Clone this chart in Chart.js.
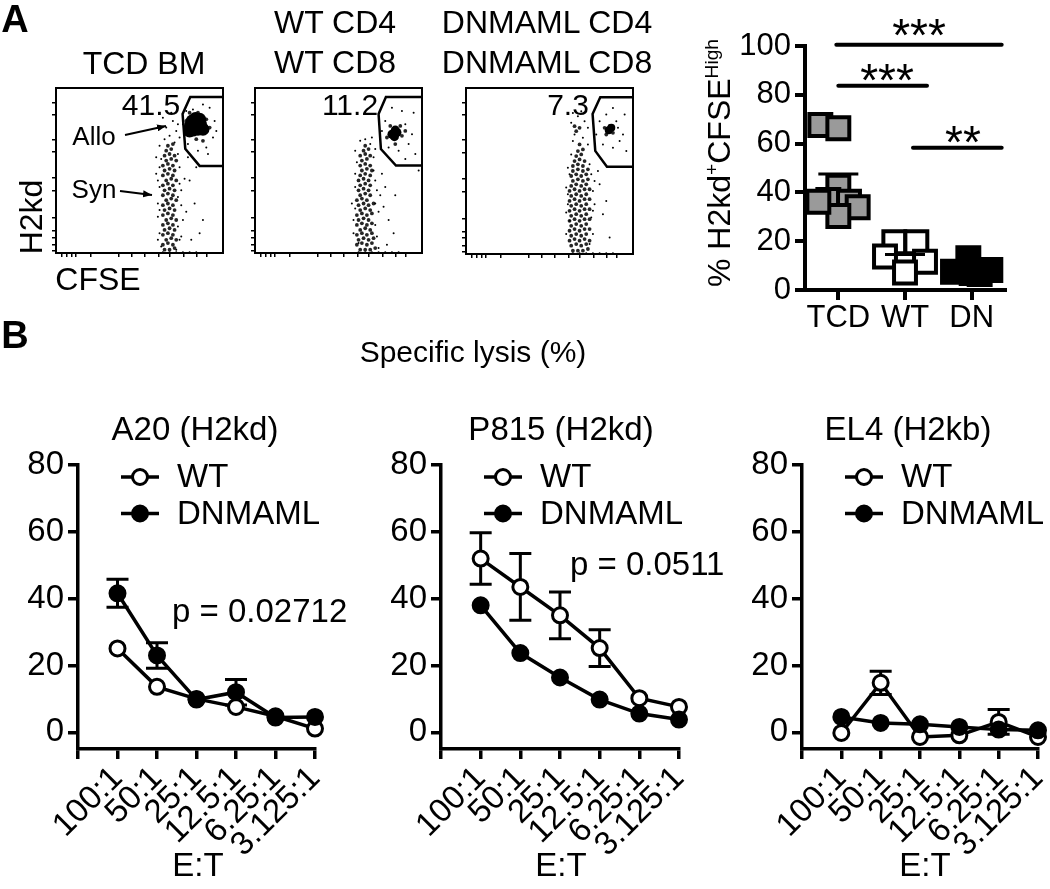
<!DOCTYPE html>
<html>
<head>
<meta charset="utf-8">
<script src="https://cdn.jsdelivr.net/npm/chart.js@4.4.0/dist/chart.umd.min.js"></script>
<style>
body{margin:0;background:#fff;}
#fig{position:relative;width:1050px;height:889px;overflow:hidden;font-family:"Liberation Sans",Arial,Helvetica,sans-serif;color:#000;background:#fff;}
canvas{position:absolute;}
.t{position:absolute;white-space:nowrap;line-height:1;transform:translate(-50%,-50%);}
.l{position:absolute;white-space:nowrap;line-height:1;transform:translateY(-50%);}
sup{font-size:0.6em;vertical-align:0.65em;line-height:0;}
</style>
</head>
<body>
<div id="fig">
  <canvas id="fc1" width="190" height="180" style="left:40px;top:80px;width:190px;height:180px"></canvas>
  <canvas id="fc2" width="190" height="180" style="left:240px;top:80px;width:190px;height:180px"></canvas>
  <canvas id="fc3" width="190" height="180" style="left:450px;top:80px;width:190px;height:180px"></canvas>
  <canvas id="rc" width="350" height="340" style="left:700px;top:0px;width:350px;height:340px"></canvas>
  <canvas id="b1" width="350" height="440" style="left:0px;top:440px;width:350px;height:440px"></canvas>
  <canvas id="b2" width="350" height="440" style="left:360px;top:440px;width:350px;height:440px"></canvas>
  <canvas id="b3" width="330" height="440" style="left:720px;top:440px;width:330px;height:440px"></canvas>

  <svg style="position:absolute;left:0;top:0" width="1050" height="889">
    <defs>
      <marker id="ah" markerWidth="4.5" markerHeight="3.6" refX="4.5" refY="1.8" orient="auto" markerUnits="strokeWidth">
        <path d="M0,0 L4.5,1.8 L0,3.6 z" fill="#000"/>
      </marker>
    </defs>
    <line x1="125" y1="135" x2="166" y2="126" stroke="#000" stroke-width="2" marker-end="url(#ah)"/>
    <line x1="120" y1="191" x2="152" y2="195" stroke="#000" stroke-width="2" marker-end="url(#ah)"/>
  </svg>

  <div class="t" style="left:15px;top:19px;font-size:38px;font-weight:bold">A</div>
  <div class="t" style="left:15px;top:335px;font-size:38px;font-weight:bold">B</div>

  <div class="t" style="left:144px;top:63px;font-size:32px">TCD BM</div>
  <div class="t" style="left:335px;top:22px;font-size:32px">WT CD4</div>
  <div class="t" style="left:335px;top:62px;font-size:32px">WT CD8</div>
  <div class="t" style="left:547px;top:22px;font-size:32px">DNMAML CD4</div>
  <div class="t" style="left:547px;top:62px;font-size:32px">DNMAML CD8</div>

  <div class="t" style="left:151px;top:105px;font-size:30px">41.5</div>
  <div class="t" style="left:350px;top:105px;font-size:30px">11.2</div>
  <div class="t" style="left:568px;top:105px;font-size:30px">7.3</div>
  <div class="t" style="left:94px;top:136px;font-size:26px">Allo</div>
  <div class="t" style="left:94px;top:189px;font-size:26px">Syn</div>
  <div class="t" style="left:31px;top:217px;font-size:32px;transform:translate(-50%,-50%) rotate(-90deg)">H2kd</div>
  <div class="t" style="left:98px;top:279px;font-size:32px">CFSE</div>

  <div class="t" style="left:719px;top:163px;font-size:32px;transform:translate(-50%,-50%) rotate(-90deg)">% H2kd<sup>+</sup>CFSE<sup>High</sup></div>
  <div class="l" style="left:919px;top:35px;font-size:46px;transform:translate(-50%,-50%)">***</div>
  <div class="l" style="left:887px;top:80px;font-size:46px;transform:translate(-50%,-50%)">***</div>
  <div class="l" style="left:963px;top:142px;font-size:46px;transform:translate(-50%,-50%)">**</div>

  <div class="t" style="left:473px;top:352px;font-size:30px">Specific lysis (%)</div>
  <div class="t" style="left:195px;top:428px;font-size:33px">A20 (H2kd)</div>
  <div class="t" style="left:561px;top:428px;font-size:33px">P815 (H2kd)</div>
  <div class="t" style="left:908px;top:428px;font-size:33px">EL4 (H2kb)</div>
  <div class="l" style="left:172px;top:610px;font-size:33px">p = 0.02712</div>
  <div class="l" style="left:570px;top:563px;font-size:33px">p = 0.0511</div>
  <div class="t" style="left:198px;top:864px;font-size:33px">E:T</div>
  <div class="t" style="left:561px;top:864px;font-size:33px">E:T</div>
  <div class="t" style="left:925px;top:864px;font-size:33px">E:T</div>
</div>

<script>
const FONT = '"Liberation Sans", Arial, Helvetica, sans-serif';
Chart.defaults.font.family = FONT;
Chart.defaults.color = '#000';

// ---- B: specific lysis (0 = bar hidden by marker) ----
const etLabels = ['100:1', '50:1', '25:1', '12.5:1', '6.25:1', '3.125:1'];
const a20WT = [25.1, 13.6, 10, 7.6, 4.8, 1.1];
const a20WTerr = [0, 0, 0, 0, 0, 0];
const a20DN = [41.6, 23, 9.8, 12, 4.4, 4.6];
const a20DNerr = [4.2, 3.8, 0, 3.8, 0, 0];
const p815WT = [52, 43.5, 35, 25.2, 10.2, 7.6];
const p815WTerr = [7.7, 10, 7, 5.5, 0, 0];
const p815DN = [38, 23.7, 16.4, 9.8, 5.6, 3.8];
const p815DNerr = [0, 0, 0, 0, 0, 0];
const el4WT = [-0.2, 14.8, -1.4, -0.9, 3.1, -1.4];
const el4WTerr = [0, 3.5, 0, 0, 3.7, 0];
const el4DN = [4.6, 2.8, 2.4, 1.6, 0.8, 0.6];
const el4DNerr = [0, 0, 0, 0, 0, 0];

// ---- A right: % H2kd+CFSEhigh per mouse ----
const groups = ['TCD', 'WT', 'DN'];
const tcdVals = [67.6, 66.3, 42.3, 36.9, 36.2, 33.9, 30.3, 36.2];
const tcdJit = [-0.27, 0, 0, -0.15, 0.16, 0.29, 0, -0.3];
const wtVals = [19.6, 19.6, 13.7, 11.6, 7.2];
const wtJit = [-0.16, 0.17, -0.3, 0.3, 0];
const dnVals = [13, 7.5, 8.2, 7, 6.5];
const dnJit = [-0.05, -0.28, 0.28, 0, 0.12];
const groupMeans = [47.5, 14.5, 9];
const sigBars = [[0.97, 3.45, 100.5], [1, 2.33, 83.7], [2.12, 3.45, 58.3]];

// ---- A left: flow plots (CFSE %, H2kd % of the frame) ----
const facsXTicks = [3.4, 6.4, 9.4, 12, 20.8, 37.4, 45.4, 53.4, 61.4, 68.4, 76.4, 84.4, 90];
const facsYTicks = [1.4, 4.9, 9.5, 13.2, 21.1, 37.8, 45.5, 61.1, 68.8, 84, 91.1];

const bmGate = [[100,94.5],[80.4,94.5],[75.8,84.2],[77.4,63.2],[86,52.8],[100,52.8]];
const bmBlob = [[80.5,77],[83.5,79],[86.5,78],[82,74.5],[85,75],[84,77],[81.5,80],[86,81],[83.5,81.5],[88,75],[80,74]];
const bmCore = [
  [65,2],[68,2],[71,3],[64,5],[67,6],[70,5],[66,8],[69,9],[72,8],[64,11],[67,12],[70,11],
  [65,14],[68,15],[71,14],[64,17],[67,18],[70,17],[66,20],[69,21],[72,20],[64,23],[67,24],[70,23],
  [65,26],[68,27],[71,26],[64,29],[67,30],[70,29],[66,32],[69,33],[72,32],[64,35],[67,36],[70,35],
  [65,38],[68,39],[71,38],[64,41],[67,42],[70,41],[66,44],[69,45],[72,44],[64,47],[67,48],[70,47],
  [65,50],[68,51],[71,50],[64,53],[67,54],[70,53],[66,56],[69,57],[72,56],[65,59],[68,60],[71,59],
  [66,62],[69,63],[67,65],[70,66],
  [79,72],[89,73],[84,69],[78,80],[90,81],[85,85],[80,85],[88,68],[92,76]];
const bmDots = [[60,48],[61,30],[62,12],[63,57],[62,40],[74,52],[75,38],[76,20],[74,8],[73,60],[61,22],[75,29],[63,4],[72,2],[60,58],[77,45],[62,65],[71,67],[65,69],[68,71],
  [61,44],[62,26],[73,16],[74,42],[75,10],[61,8],[73,34],[62,52],
  [66,76],[70,80],[72,74],[74,70],[64,82],[69,85],[73,78],
  [80,44],[83,30],[78,25],[86,12],[81,8],[79,58],[84,52],[88,20],
  [64,0.5],[68,0.5],[72,0.5],[76,0.5],[80,0.5],[84,0.5],
  [78,86],[92,88],[95,80],[94,70],[90,64],[85,62],[79,66],[76,78],[96,74],[88,90],[82,87],[91,60]];

const wtGate = [[100,94.5],[78.4,94.5],[74,84.2],[75.4,63],[84.4,53],[100,53]];
const wtBlob = [[82,72],[85,73],[83.5,70.5],[84,74.5]];
const wtCore = [
  [63,2],[66,2],[69,2],[72,3],[61,5],[64,6],[67,5],[70,6],[62,8],[65,9],[68,8],[71,9],
  [61,11],[64,12],[67,11],[70,12],[63,14],[66,15],[69,14],[61,17],[64,18],[67,17],[70,18],
  [62,20],[65,21],[68,20],[61,23],[64,24],[67,23],[70,24],[63,26],[66,27],[69,26],
  [62,29],[65,30],[68,29],[71,30],[61,32],[64,33],[67,32],[63,35],[66,36],[69,35],
  [62,38],[65,39],[68,38],[63,41],[66,42],[69,41],[62,44],[65,45],[68,44],[63,47],[66,48],[69,47],
  [64,50],[67,51],[70,50],[63,53],[66,54],[69,53],[64,56],[67,57],[63,59],[66,60],[69,59],
  [65,62],[68,63],[66,65],
  [79,70],[88,71],[84,66],[81,77],[87,77],[90,74]];
const wtDots = [[59,20],[60,40],[61,55],[62,6],[73,10],[74,25],[72,44],[75,35],[71,58],[60,62],[63,68],[69,66],[58,30],[74,3],[70,70],[66,69],
  [59,12],[60,27],[72,17],[73,38],[71,50],[60,48],[72,30],
  [72,63],[76,48],[78,40],[77,28],[80,20],[83,12],[79,5],[84,35],
  [62,0.5],[66,0.5],[70,0.5],[74,0.5],[78,0.5],[82,0.5],[86,0.5],
  [78,80],[90,78],[94,72],[92,66],[86,62],[80,64],[95,85],[88,86],[82,88],[96,60],[76,74],[90,57],[98,50]];

const dnGate = [[100,94.5],[80.4,94.5],[75.8,84.4],[77.4,62.1],[84.4,52.6],[100,52.6]];
const dnBlob = [[85.5,74.5],[87,76]];
const dnCore = [
  [64,2],[67,2],[70,2],[73,3],[63,5],[66,6],[69,5],[72,6],[62,8],[65,9],[68,8],[71,9],[74,8],
  [63,11],[66,12],[69,11],[72,12],[62,14],[65,15],[68,14],[71,15],[74,15],[63,17],[66,18],[69,17],[72,18],
  [62,20],[65,21],[68,20],[71,21],[74,21],[63,23],[66,24],[69,23],[72,24],[62,26],[65,27],[68,26],[71,27],[74,27],
  [63,29],[66,30],[69,29],[72,30],[62,32],[65,33],[68,32],[71,33],[74,33],[63,35],[66,36],[69,35],[72,36],
  [62,38],[65,39],[68,38],[71,39],[74,39],[63,41],[66,42],[69,41],[72,42],[64,44],[67,45],[70,44],[73,45],
  [63,47],[66,48],[69,47],[72,48],[64,50],[67,51],[70,50],[73,51],[64,53],[67,54],[70,53],
  [65,56],[68,57],[71,56],[66,59],[69,60],[67,62],[70,63],[68,66],
  [66,74],[68,76],[65,77],[84,72],[86,77],[83,76],[88,73]];
const dnDots = [[60,12],[61,30],[62,48],[63,60],[74,6],[75,22],[76,38],[74,54],[73,66],[60,40],[62,20],[77,30],[64,68],[70,70],[63,79],[67,83],[71,80],[65,72],[73,76],[69,86],[64,85],
  [60,25],[61,36],[76,12],[77,44],[75,48],[61,52],[76,26],
  [80,42],[82,24],[86,10],[79,50],[84,32],
  [64,0.5],[68,0.5],[72,0.5],[76,0.5],[80,0.5],[84,0.5],[88,0.5],
  [80,80],[90,80],[94,72],[92,68],[88,64],[82,66],[95,84],[88,88],[84,84],[96,62],[78,72],[91,76]];

// fixed axis sizes so the plot areas land where the figure has them
function fixW(w) { return s => { s.width = w; s.paddingTop = 0; s.paddingBottom = 0; s.paddingLeft = 0; s.paddingRight = 0; }; }
function fixH(h) { return s => { s.height = h; s.paddingTop = 0; s.paddingBottom = 0; s.paddingLeft = 0; s.paddingRight = 0; }; }
function setTicks(vals) { return s => { s.ticks = vals.map(v => ({ value: v })); }; }

const framePlugin = {
  id: 'frame',
  afterDatasetsDraw(chart) {
    const a = chart.chartArea, ctx = chart.ctx;
    ctx.save();
    ctx.strokeStyle = '#000';
    ctx.lineWidth = 2;
    ctx.strokeRect(a.left, a.top, a.right - a.left, a.bottom - a.top);
    ctx.restore();
  }
};

function facsChart(id, core, blob, dots, gate, yw, pr, xh, blobR) {
  const facsAxis = (vals, fit) => ({
    type: 'linear', min: 0, max: 100,
    afterBuildTicks: setTicks(vals), afterFit: fit,
    ticks: { display: false },
    grid: { drawOnChartArea: false, tickLength: 4, lineWidth: 1.5, color: '#000' },
    border: { display: false }
  });
  return new Chart(document.getElementById(id), {
    type: 'scatter',
    data: {
      datasets: [
        { data: gate, showLine: true, borderColor: '#000', borderWidth: 2.5, pointRadius: 0, fill: false },
        { data: core, pointRadius: 1.9, backgroundColor: 'rgba(0,0,0,0.85)', borderWidth: 0 },
        { data: blob, pointRadius: blobR, backgroundColor: '#000', borderWidth: 0 },
        { data: dots, pointRadius: 1, backgroundColor: '#000', borderWidth: 0 }
      ]
    },
    options: {
      responsive: false, animation: false, events: [],
      layout: { padding: { top: 8, right: pr, left: 0, bottom: 0 } },
      plugins: { legend: { display: false }, tooltip: { enabled: false } },
      scales: { x: facsAxis(facsXTicks, fixH(xh)), y: facsAxis(facsYTicks, fixW(yw)) }
    },
    plugins: [framePlugin]
  });
}

facsChart('fc1', bmCore, bmBlob, bmDots, bmGate, 16, 7, 7, 6.5);
facsChart('fc2', wtCore, wtBlob, wtDots, wtGate, 15, 8, 7, 4.5);
facsChart('fc3', dnCore, dnBlob, dnDots, dnGate, 16, 7, 6, 4);

// mean lines + significance bars
const groupMarks = {
  id: 'groupMarks',
  afterDatasetsDraw(chart) {
    const ctx = chart.ctx, xs = chart.scales.x, ys = chart.scales.y;
    ctx.save();
    ctx.strokeStyle = '#000';
    ctx.lineWidth = 3;
    groupMeans.forEach((m, g) => {
      const y = ys.getPixelForValue(m);
      ctx.beginPath();
      ctx.moveTo(xs.getPixelForValue(g + 1 - 0.3), y);
      ctx.lineTo(xs.getPixelForValue(g + 1 + 0.3), y);
      ctx.stroke();
    });
    ctx.lineWidth = 4;
    ctx.lineCap = 'round';
    sigBars.forEach(b => {
      const y = ys.getPixelForValue(b[2]);
      ctx.beginPath();
      ctx.moveTo(xs.getPixelForValue(b[0]), y);
      ctx.lineTo(xs.getPixelForValue(b[1]), y);
      ctx.stroke();
    });
    ctx.restore();
  }
};

const squares = (vals, jit, g) => vals.map((v, i) => ({ x: g + jit[i], y: v }));
new Chart(document.getElementById('rc'), {
  type: 'scatter',
  data: {
    datasets: [
      { data: squares(tcdVals, tcdJit, 1), pointStyle: 'rect', pointRadius: 15.5, backgroundColor: '#9a9a9a', borderColor: '#000', borderWidth: 4, clip: false },
      { data: squares(wtVals, wtJit, 2), pointStyle: 'rect', pointRadius: 15.5, backgroundColor: '#fff', borderColor: '#000', borderWidth: 4, clip: false },
      { data: squares(dnVals, dnJit, 3), pointStyle: 'rect', pointRadius: 15.5, backgroundColor: '#000', borderColor: '#000', borderWidth: 4, clip: false }
    ]
  },
  options: {
    responsive: false, animation: false, events: [],
    layout: { padding: { top: 46, right: 45, left: 0, bottom: 0 } },
    plugins: { legend: { display: false }, tooltip: { enabled: false } },
    scales: {
      x: {
        type: 'linear', min: 0.5, max: 3.5,
        afterBuildTicks: setTicks([1, 2, 3]), afterFit: fixH(50),
        ticks: { autoSkip: false, maxRotation: 0, padding: 0, font: { size: 31 }, callback: v => groups[v - 1] },
        grid: { drawOnChartArea: false, tickLength: 10, lineWidth: 4, color: '#000' },
        border: { width: 4, color: '#000' }
      },
      y: {
        min: 0, max: 100,
        afterBuildTicks: setTicks([0, 20, 40, 60, 80, 100]), afterFit: fixW(105),
        ticks: { padding: 4, font: { size: 31 } },
        grid: { drawOnChartArea: false, tickLength: 10, lineWidth: 4, color: '#000' },
        border: { width: 4, color: '#000' }
      }
    }
  },
  plugins: [groupMarks]
});

// error bars behind the markers
const errorBars = {
  id: 'errorBars',
  beforeDatasetsDraw(chart) {
    const ctx = chart.ctx, xs = chart.scales.x, ys = chart.scales.y;
    ctx.save();
    ctx.strokeStyle = '#000';
    ctx.lineWidth = 3;
    chart.data.datasets.forEach(ds => {
      ds.data.forEach((p, i) => {
        const e = ds.errs[i];
        if (!e) return;
        const x = xs.getPixelForValue(p.x);
        const yt = ys.getPixelForValue(p.y + e), yb = ys.getPixelForValue(p.y - e);
        ctx.beginPath();
        ctx.moveTo(x, yt); ctx.lineTo(x, yb);
        ctx.moveTo(x - 11, yt); ctx.lineTo(x + 11, yt);
        ctx.moveTo(x - 11, yb); ctx.lineTo(x + 11, yb);
        ctx.stroke();
      });
    });
    ctx.restore();
  }
};

const lysisLegend = {
  id: 'lysisLegend',
  afterDatasetsDraw(chart) {
    const a = chart.chartArea, ctx = chart.ctx;
    ctx.save();
    chart.data.datasets.forEach((ds, k) => {
      const y = a.top + 12 + 36.5 * k;
      ctx.strokeStyle = '#000';
      ctx.lineWidth = 3.5;
      ctx.beginPath(); ctx.moveTo(a.left + 43, y); ctx.lineTo(a.left + 81, y); ctx.stroke();
      ctx.beginPath(); ctx.arc(a.left + 62, y, 7.5, 0, Math.PI * 2);
      ctx.fillStyle = ds.pointBackgroundColor; ctx.fill();
      ctx.lineWidth = 3; ctx.stroke();
      ctx.fillStyle = '#000';
      ctx.font = '33px ' + FONT;
      ctx.textBaseline = 'middle';
      ctx.fillText(ds.label, a.left + 99, y + 1);
    });
    ctx.restore();
  }
};

function lysisChart(id, wt, wtErr, dn, dnErr, yw, pr) {
  const pts = arr => arr.map((v, i) => ({ x: i + 1, y: v }));
  const line = { borderColor: '#000', borderWidth: 3.5, pointRadius: 7.5, pointBorderWidth: 3, pointBorderColor: '#000', clip: false, tension: 0 };
  return new Chart(document.getElementById(id), {
    type: 'line',
    data: {
      datasets: [
        Object.assign({ label: 'WT', data: pts(wt), errs: wtErr, order: 2, pointBackgroundColor: '#fff' }, line),
        Object.assign({ label: 'DNMAML', data: pts(dn), errs: dnErr, order: 1, pointBackgroundColor: '#000' }, line)
      ]
    },
    options: {
      responsive: false, animation: false, events: [],
      layout: { padding: { top: 25, right: pr, left: 0, bottom: 0 } },
      plugins: { legend: { display: false }, tooltip: { enabled: false } },
      scales: {
        x: {
          type: 'linear', min: 0, max: 6,
          afterBuildTicks: setTicks([0, 1, 2, 3, 4, 5, 6]), afterFit: fixH(131),
          ticks: { autoSkip: false, minRotation: 45, maxRotation: 45, padding: 0, font: { size: 33 }, callback: v => v === 0 ? '' : etLabels[v - 1] },
          grid: { drawOnChartArea: false, tickLength: 10, lineWidth: 3.5, color: '#000' },
          border: { width: 3.5, color: '#000' }
        },
        y: {
          min: -5, max: 80,
          afterBuildTicks: setTicks([0, 20, 40, 60, 80]), afterFit: fixW(yw),
          ticks: { padding: 4, font: { size: 33 } },
          grid: { drawOnChartArea: false, tickLength: 10, lineWidth: 3.5, color: '#000' },
          border: { width: 3.5, color: '#000' }
        }
      }
    },
    plugins: [errorBars, lysisLegend]
  });
}

lysisChart('b1', a20WT, a20WTerr, a20DN, a20DNerr, 78, 35);
lysisChart('b2', p815WT, p815WTerr, p815DN, p815DNerr, 81, 31);
lysisChart('b3', el4WT, el4WTerr, el4DN, el4DNerr, 82, 12);
</script>
</body>
</html>
